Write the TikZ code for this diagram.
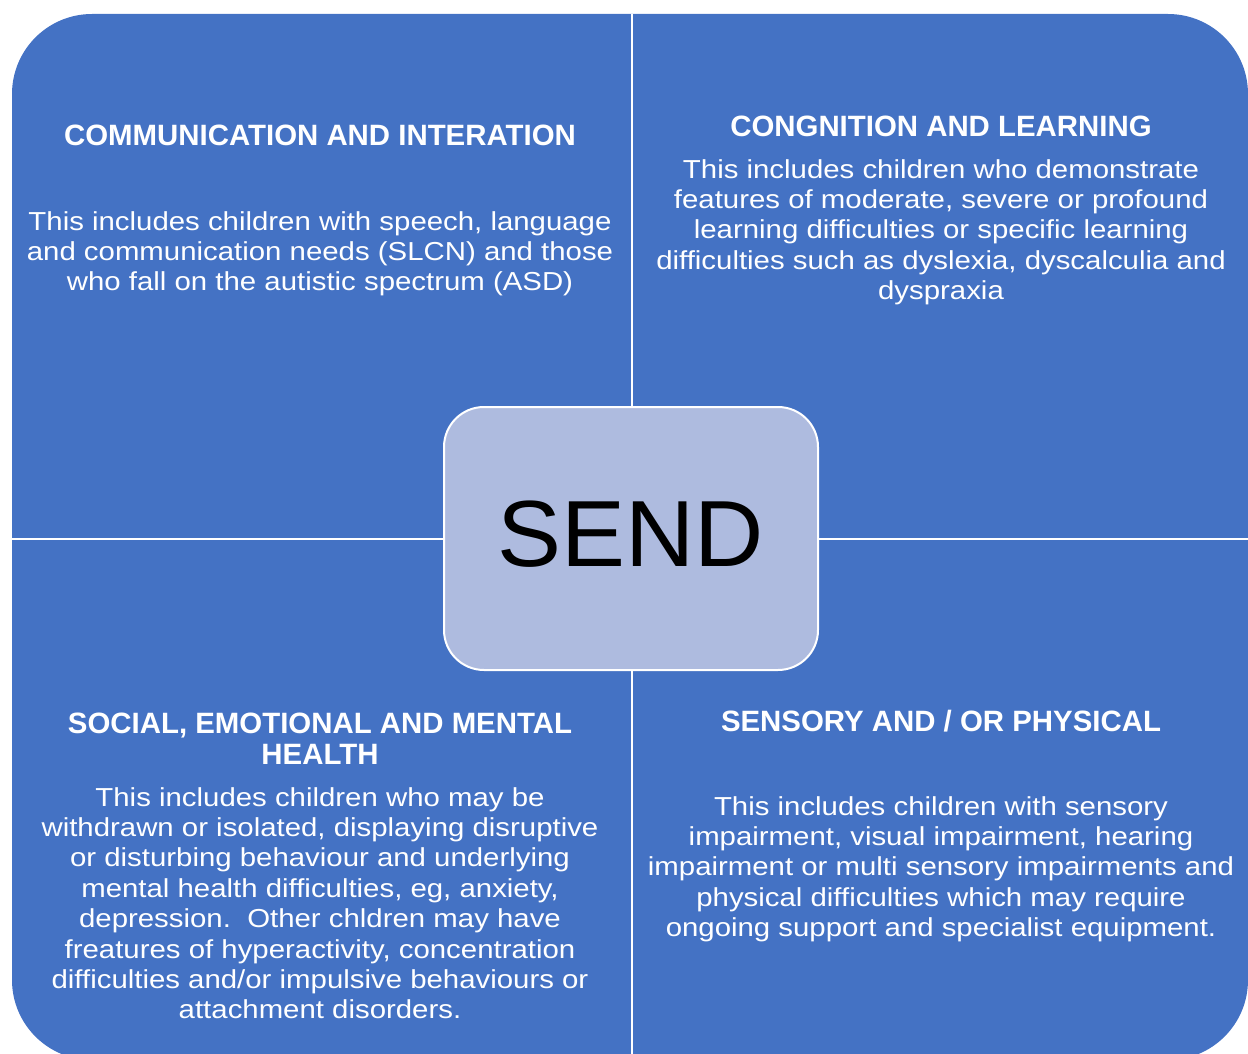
\documentclass[tikz,border=0pt]{standalone}
\usepackage{fontspec}
\setmainfont{Liberation Sans}
\newfontfamily\bodyfont[FakeStretch=1.13]{Liberation Sans}
\newfontfamily\sendfont[FakeStretch=1.02]{Liberation Sans}
\definecolor{accblue}{HTML}{4472C4}
\definecolor{sendfill}{HTML}{AEBBDF}
\begin{document}
\begin{tikzpicture}[x=1pt,y=-1pt,
  ttl/.style={anchor=base, inner sep=0pt, align=center, text=white,
    font=\fontsize{29.4}{30.5}\selectfont\bfseries},
  bdy/.style={anchor=base, inner sep=0pt, align=center, text=white,
    font=\bodyfont\fontsize{26}{30.4}\selectfont},
  divider/.style={draw=white, line width=2.5pt},
  centrebox/.style={draw=white, line width=2pt, fill=sendfill, rounded corners=40pt,
    minimum width=374pt, minimum height=263pt, inner sep=0pt}]
\useasboundingbox (0,0) rectangle (1248,1054);
\clip (0,0) rectangle (1248,1054);
\fill[accblue, rounded corners=80pt] (12,14) rectangle (1248,1060);
\coordinate (ntop) at (632,14);
\coordinate (nbot) at (632,1054);
\coordinate (wleft) at (12,539);
\coordinate (eright) at (1248,539);
\draw[divider] (ntop) -- (nbot);
\draw[divider] (wleft) -- (eright);
\node[centrebox] (send) at (631,538.5) {};
\node[inner sep=0pt, font=\sendfont\fontsize{94}{94}\selectfont] (sendlbl) at (631,533.7) {SEND};
% top left (base anchor = baseline of the last line)
\node[ttl] (t1) at (320,145.5) {COMMUNICATION AND INTERATION};
\node[bdy] (b1) at (320,290.8) {This includes children with speech, language\\and communication needs (SLCN) and those\\who fall on the autistic spectrum (ASD)};
% top right
\node[ttl] (t2) at (941,136.5) {CONGNITION AND LEARNING};
\node[bdy] (b2) at (941,299.6) {This includes children who demonstrate\\features of moderate, severe or profound\\learning difficulties or specific learning\\difficulties such as dyslexia, dyscalculia and\\dyspraxia};
% bottom left
\node[ttl] (t3) at (320,764) {SOCIAL, EMOTIONAL AND MENTAL\\HEALTH};
\node[bdy] (b3) at (320,1018.8) {This includes children who may be\\withdrawn or isolated, displaying disruptive\\or disturbing behaviour and underlying\\mental health difficulties, eg, anxiety,\\depression.\ \ Other chldren may have\\freatures of hyperactivity, concentration\\difficulties and/or impulsive behaviours or\\attachment disorders.};
% bottom right
\node[ttl] (t4) at (941,731.5) {SENSORY AND / OR PHYSICAL};
\node[bdy] (b4) at (941,936.6) {This includes children with sensory\\impairment, visual impairment, hearing\\impairment or multi sensory impairments and\\physical difficulties which may require\\ongoing support and specialist equipment.};
\end{tikzpicture}
\end{document}
